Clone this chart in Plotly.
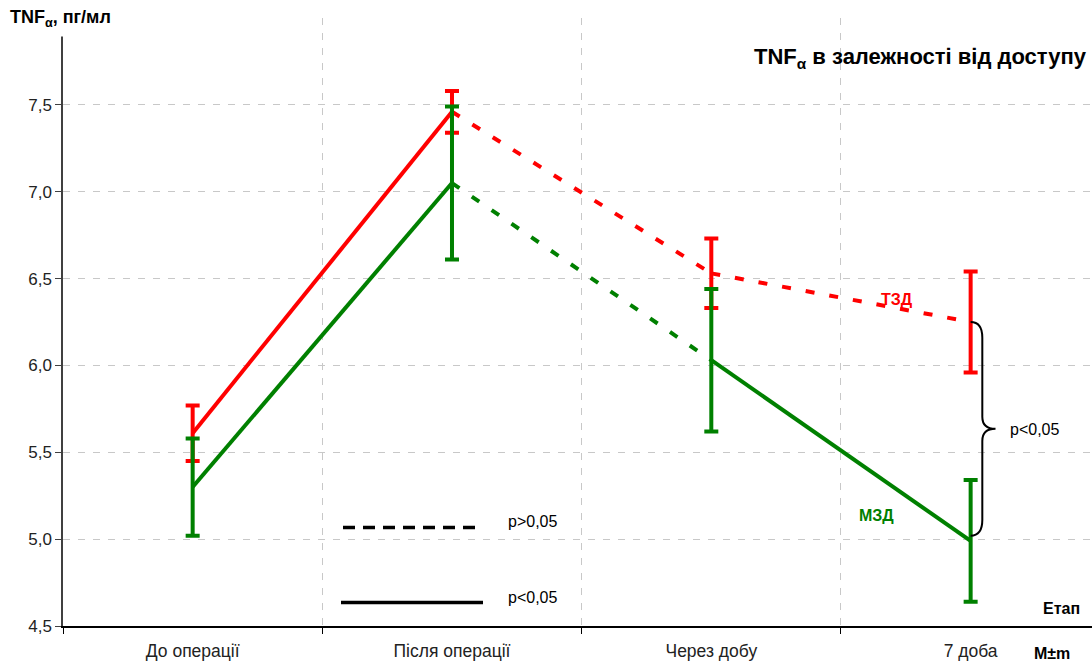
import plotly.graph_objects as go

# Stages on the x axis
stages = ["До операції", "Після операції", "Через добу", "7 доба"]

# TNF-alpha means and errors (M±m) for the two access groups
tzd_mean = [5.61, 7.46, 6.53, 6.25]
tzd_err = [0.16, 0.12, 0.20, 0.29]
mzd_mean = [5.30, 7.05, 6.03, 4.99]
mzd_err = [0.28, 0.44, 0.41, 0.35]

# line style of each segment between consecutive stages
tzd_dash = ["solid", "dash", "dash"]
mzd_dash = ["solid", "dash", "solid"]

y_ticks = [4.5, 5.0, 5.5, 6.0, 6.5, 7.0, 7.5, 8.0]
y_ticktext = ["4,5", "5,0", "5,5", "6,0", "6,5", "7,0", "7,5", " "]

RED = "#ff0000"
GREEN = "#008000"
FONT = "Liberation Sans, Arial, sans-serif"

W, H = 1092, 666
ML, MR, MT, MB = 63, 0, 18, 40


def px(x):
    return (x - ML) / (W - ML - MR)


def py(y):
    return (H - MB - y) / (H - MB - MT)


fig = go.Figure()

DASH_PATTERN = "9px,15px"


def add_series(means, errs, dashes, color):
    for i, d in enumerate(dashes):
        fig.add_trace(go.Scatter(
            x=[stages[i], stages[i + 1]], y=[means[i], means[i + 1]],
            mode="lines",
            line=dict(color=color, width=4,
                      dash=DASH_PATTERN if d == "dash" else "solid"),
            hoverinfo="skip", showlegend=False,
        ))
    fig.add_trace(go.Scatter(
        x=stages, y=means, mode="markers",
        marker=dict(size=1, color=color, opacity=0),
        error_y=dict(type="data", array=errs, visible=True,
                     color=color, thickness=4, width=7),
        showlegend=False,
    ))


add_series(tzd_mean, tzd_err, tzd_dash, RED)
add_series(mzd_mean, mzd_err, mzd_dash, GREEN)

# curly brace between the two groups at the last stage
yt, yb = tzd_mean[3], mzd_mean[3] + 0.03
ym = (yt + yb) / 2
xs, xv, xp = 3.0, 3.045, 3.096
c = 0.09
brace = (f"M {xs},{yt} Q {xv},{yt} {xv},{yt - c} "
         f"L {xv},{ym + 0.07} Q {xv},{ym} {xp},{ym} "
         f"Q {xv},{ym} {xv},{ym - 0.07} "
         f"L {xv},{yb + c} Q {xv},{yb} {xs},{yb}")
fig.add_shape(type="path", path=brace, xref="x", yref="y",
              line=dict(color="black", width=2))

# significance key
fig.add_shape(type="line", xref="paper", yref="paper",
              x0=px(343), x1=px(483), y0=py(527.5), y1=py(527.5),
              line=dict(color="black", width=3.5, dash="12px,8px"))
fig.add_shape(type="line", xref="paper", yref="paper",
              x0=px(341), x1=px(483), y0=py(602.5), y1=py(602.5),
              line=dict(color="black", width=3.5))


def note(text, x, y, size=16, color="black", xanchor="left", **kw):
    fig.add_annotation(text=text, x=px(x), y=py(y), xref="paper", yref="paper",
                       xanchor=xanchor, yanchor="middle", showarrow=False,
                       font=dict(family=FONT, size=size, color=color), **kw)


note("p>0,05", 506, 521.5)
note("p<0,05", 506, 597.5)
note("p<0,05", 1008, 430)
note("<b>ТЗД</b>", 897, 299, size=16, color=RED, xanchor="center")
note("<b>МЗД</b>", 876, 515, size=16, color=GREEN, xanchor="center")
note("<b>Етап</b>", 1082, 608.5, size=16, xanchor="right")
note("<b>M±m</b>", 1072, 653, size=16, xanchor="right")
note("<b>TNF<sub>α</sub> в залежності від доступу</b>", 1089, 58, size=22,
     xanchor="right")
note("<b>TNF<sub>α</sub>, пг/мл</b>", 3, 18, size=18, bgcolor="white",
     borderpad=6)

fig.update_layout(
    width=W, height=H,
    margin=dict(l=ML, r=MR, t=MT, b=MB),
    plot_bgcolor="white", paper_bgcolor="white",
    separators=",.",
    font=dict(family=FONT, size=16, color="black"),
    xaxis=dict(
        type="category", categoryorder="array", categoryarray=stages,
        range=[-0.5, 3.468], tickson="boundaries",
        showline=True, linecolor="black", linewidth=1.5,
        ticks="outside", ticklen=6, tickcolor="black",
        showgrid=True, gridcolor="#c8c8c8", griddash="7px,8px", gridwidth=1,
        tickfont=dict(family=FONT, size=17.5, color="#222"),
        ticklabelstandoff=8,
        zeroline=False,
    ),
    yaxis=dict(
        range=[4.5, 8.0], tickvals=y_ticks, ticktext=y_ticktext,
        showline=True, linecolor="#404040", linewidth=1.5,
        ticks="outside", ticklen=6, tickcolor="#404040",
        showgrid=True, gridcolor="#c8c8c8", griddash="7px,8px", gridwidth=1,
        tickfont=dict(family=FONT, size=17, color="#222"),
        zeroline=False,
    ),
)

fig.write_html("out.html")
